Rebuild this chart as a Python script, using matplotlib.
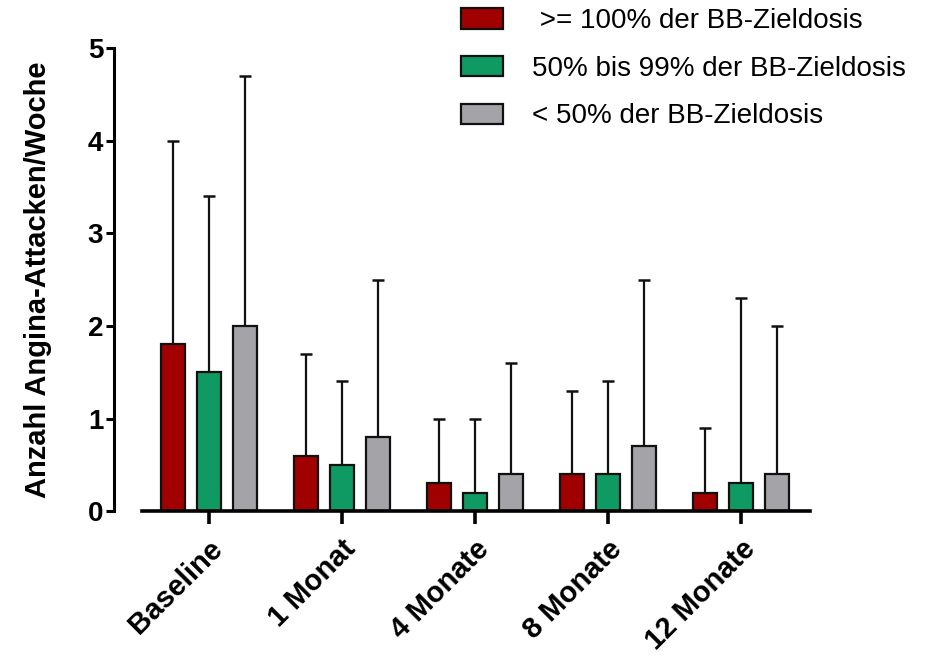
import matplotlib.pyplot as plt
import numpy as np

plt.rcParams['font.family'] = ['Liberation Sans', 'DejaVu Sans']

zeitpunkte = ['Baseline', '1 Monat', '4 Monate', '8 Monate', '12 Monate']
gruppen = [' >= 100% der BB-Zieldosis', '50% bis 99% der BB-Zieldosis', '< 50% der BB-Zieldosis']
farben = ['#a00000', '#0f9a63', '#a3a3a8']

mittel_100 = [1.8, 0.6, 0.3, 0.4, 0.2]
mittel_50 = [1.5, 0.5, 0.2, 0.4, 0.3]
mittel_u50 = [2.0, 0.8, 0.4, 0.7, 0.4]

oben_100 = [4.0, 1.7, 1.0, 1.3, 0.9]
oben_50 = [3.4, 1.4, 1.0, 1.4, 2.3]
oben_u50 = [4.7, 2.5, 1.6, 2.5, 2.0]

y_ticks = [0, 1, 2, 3, 4, 5]

mittel = [mittel_100, mittel_50, mittel_u50]
oben = [oben_100, oben_50, oben_u50]

fig = plt.figure(figsize=(9.29, 6.57), dpi=100)
ax = fig.add_axes([0.153, 0.222, 0.719, 0.705])

# Achsen zuerst, sonst setzt set_position die Tick-Labels zurueck
ax.spines['top'].set_visible(False)
ax.spines['right'].set_visible(False)
ax.spines['left'].set_position(('outward', 20))
ax.spines['left'].set_linewidth(2.2)
ax.spines['bottom'].set_linewidth(2.6)

x = np.arange(len(zeitpunkte))
breite = 0.18
abstand = 0.27

for i in range(3):
    m = np.array(mittel[i])
    fehler = np.array(oben[i]) - m
    pos = x + (i - 1) * abstand
    ax.errorbar(pos, m, yerr=[np.zeros_like(m), fehler], fmt='none',
                ecolor='#111111', elinewidth=1.6, capsize=4.3, capthick=1.8, zorder=1)
    ax.bar(pos, m, breite, color=farben[i], edgecolor='#111111', linewidth=1.6,
           label=gruppen[i], zorder=2)

ax.set_xlim(-0.5, 4.52)
ax.set_ylim(0, 5)
ax.set_yticks(y_ticks)
ax.set_yticklabels([str(t) for t in y_ticks], fontsize=20, fontweight='bold')
ax.set_xticks(x)
ax.set_xticklabels(zeitpunkte, rotation=45, ha='right', rotation_mode='anchor',
                   fontsize=21, fontweight='bold')

ax.tick_params(axis='y', direction='out', length=6, width=2.2, pad=2)
ax.tick_params(axis='x', direction='out', length=9, width=2.6, pad=8)

ax.set_ylabel('Anzahl Angina-Attacken/Woche', fontsize=21, fontweight='bold', labelpad=26)

ax.legend(loc='upper left', bbox_to_anchor=(0.44, 1.14), frameon=False, fontsize=20,
          handlelength=1.5, handleheight=0.75, handletextpad=1.05, labelspacing=0.78)

plt.savefig('out.png', dpi=100)
plt.close()
